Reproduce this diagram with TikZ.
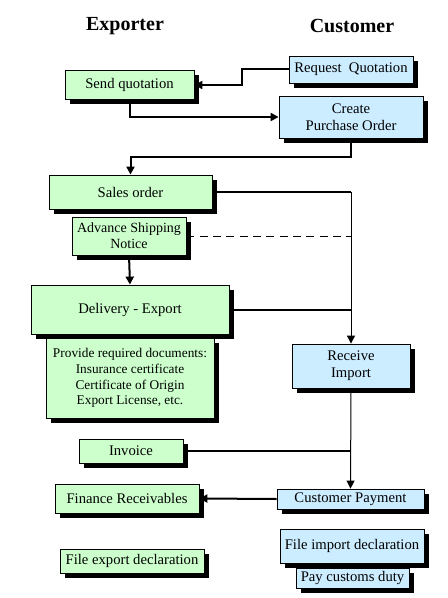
\documentclass[tikz,border=0pt]{standalone}
\usepackage{fontspec}
\setmainfont{Liberation Serif}
\usetikzlibrary{arrows.meta, shadows}

\newcommand{\pxu}{0.75pt}
\definecolor{expgreen}{HTML}{CCFFCC}
\definecolor{custblue}{HTML}{CCECFF}

\tikzset{
  box/.style={draw=black, line width=0.6pt, align=center, inner sep=1pt,
    font=\rmfamily\fontsize{11}{12.5}\selectfont,
    drop shadow={shadow xshift=3.75pt, shadow yshift=-3.75pt, fill=black, opacity=1}},
  expbox/.style={box, fill=expgreen},
  custbox/.style={box, fill=custblue},
  title/.style={font=\rmfamily\fontsize{15}{17}\selectfont\bfseries},
  flow/.style={line width=1.5pt},
  flowarr/.style={flow, -{Triangle[length=6pt,width=6pt]}},
  thinarr/.style={line width=0.75pt, -{Triangle[length=6pt,width=6pt]}}
}

\begin{document}
\begin{tikzpicture}[x=\pxu, y=-\pxu]
\useasboundingbox (0,0) rectangle (448,598);

% titles
\node[title] (extitle) at (125,26) {Exporter};
\node[title] (cutitle) at (352,26) {Customer};

% quotation and order
\node[custbox, minimum width=124*\pxu, minimum height=27*\pxu] (reqq) at (351,69.5) {Request~ Quotation};
\node[expbox, minimum width=129*\pxu, minimum height=29*\pxu] (sendq) at (129.5,85) {Send quotation};
\node[custbox, minimum width=144*\pxu, minimum height=42*\pxu] (createpo) at (351,117) {Create\\Purchase Order};

% exporter side
\node[expbox, minimum width=163*\pxu, minimum height=34*\pxu] (sales) at (130.5,192) {Sales order};
\node[expbox, minimum width=114*\pxu, minimum height=38*\pxu, font=\rmfamily\fontsize{10.5}{12}\selectfont] (asn) at (129,236) {Advance Shipping\\Notice};
\node[expbox, minimum width=168*\pxu, minimum height=80*\pxu, font=\rmfamily\fontsize{10}{11.8}\selectfont] (docs) at (130,378)
  {Provide required documents:\\Insurance certificate\\Certificate of Origin\\Export License, etc.};
\node[expbox, minimum width=198*\pxu, minimum height=49*\pxu] (deliv) at (130,309.5) {Delivery - Export};
\node[expbox, minimum width=104*\pxu, minimum height=24*\pxu] (inv) at (131,451) {Invoice};
\node[expbox, minimum width=144*\pxu, minimum height=29*\pxu] (fin) at (127,498.5) {Finance Receivables};
\node[expbox, minimum width=144*\pxu, minimum height=24*\pxu] (fexp) at (132,561) {File export declaration};

% customer side
\node[custbox, minimum width=118*\pxu, minimum height=44*\pxu] (recv) at (351,366) {Receive\\Import};
\node[custbox, minimum width=147*\pxu, minimum height=20*\pxu] (pay) at (350.5,499) {Customer Payment};
\node[custbox, minimum width=144*\pxu, minimum height=34*\pxu] (fimp) at (352,546) {File import declaration};
\node[custbox, minimum width=113*\pxu, minimum height=20*\pxu] (duty) at (352.5,578) {Pay customs duty};

% connectors
\draw[flowarr] (reqq.west) -- ++(-47,0) |- (sendq.east);
\draw[flowarr] (sendq.south) |- (createpo.west);
\draw[flowarr] (createpo.south) -- ++(0,19) -| (sales.north);
\draw[flowarr] (asn.south) -- (deliv.north);

\draw[flow] (sales.east) -- (sales.east -| recv.north) coordinate (salesjoin);
\draw[thinarr] (salesjoin) -- (recv.north);
\draw[line width=0.75pt, dash pattern=on 6pt off 4pt] (asn.east) -- (asn.east -| recv.north);
\draw[flow] (deliv.east) -- (deliv.east -| recv.north);

\draw[thinarr] (recv.south) -- (pay.north);
\draw[flow] (inv.east) -- (inv.east -| recv.south);
\draw[flowarr] (pay.west) -- (fin.east);

\end{tikzpicture}
\end{document}
